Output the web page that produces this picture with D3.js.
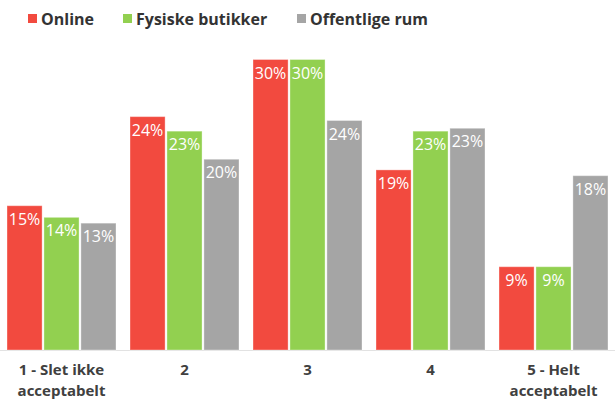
<!DOCTYPE html>
<html><head><meta charset="utf-8">
<script src="https://cdn.jsdelivr.net/npm/d3@7"></script>
<style>body{margin:0;background:#fff}svg{display:block}</style>
</head><body>
<svg id="c" width="615" height="401"></svg>
<script>
const categories = ["1 - Slet ikke|acceptabelt", "2", "3", "4", "5 - Helt|acceptabelt"];
const series = ["Online", "Fysiske butikker", "Offentlige rum"];
const online = [14.9, 24.1, 30.0, 18.6, 8.6];
const fysiske = [13.7, 22.6, 30.0, 22.6, 8.6];
const offentlige = [13.1, 19.7, 23.7, 22.9, 18.0];
const colors = ["#F24A3F", "#92D050", "#A5A5A5"];

const values = [online, fysiske, offentlige];
const svg = d3.select("#c");
const W = 615;
const x0 = d3.scaleBand().domain(categories).range([0, W]).padding(0);
const x1 = d3.scaleBand().domain(series).range([7, 116]).paddingInner(0.05);
const y = d3.scaleLinear().domain([0, 30]).range([350, 59.5]);

// baseline
svg.append("line").attr("x1", 0).attr("x2", W).attr("y1", 350.5).attr("y2", 350.5)
  .attr("stroke", "#e2e2e2").attr("stroke-width", 1);

const g = svg.append("g");
categories.forEach((c, ci) => {
  series.forEach((s, si) => {
    const v = values[si][ci];
    const bx = x0(c) + x1(s);
    g.append("rect").attr("x", bx).attr("y", y(v)).attr("width", x1.bandwidth())
      .attr("height", y(0) - y(v)).attr("fill", colors[si])
      .attr("stroke", "rgba(255,255,255,0.35)").attr("stroke-width", 1);
    g.append("text").attr("x", bx + x1.bandwidth() / 2).attr("y", y(v) + 19)
      .attr("text-anchor", "middle").attr("fill", "#fff")
      .attr("font-family", "Open Sans").attr("font-size", 16)
      .text(Math.round(v) + "%");
  });
});

// x axis labels
const xa = d3.axisBottom(x0).tickSize(0).tickFormat("");
const ax = svg.append("g").attr("transform", "translate(0,350)").call(xa);
ax.select(".domain").remove();
ax.selectAll(".tick").each(function(d) {
  const lines = d.split("|");
  const t = d3.select(this).append("text").attr("text-anchor", "middle")
    .attr("fill", "#404040").attr("font-family", "Open Sans").attr("font-weight", "bold")
    .attr("font-size", 15);
  lines.forEach((l, i) => t.append("tspan").attr("x", 0).attr("y", 25 + i * 21).text(l));
});

// legend
const legX = [28, 123, 297];
series.forEach((s, i) => {
  const lg = svg.append("g").attr("transform", `translate(${legX[i]},0)`);
  lg.append("rect").attr("x", 0).attr("y", 14).attr("width", 9).attr("height", 9).attr("fill", colors[i]);
  lg.append("text").attr("x", 13).attr("y", 24.5).attr("fill", "#333")
    .attr("font-family", "Open Sans").attr("font-weight", "bold").attr("font-size", 16).text(s);
});
</script>
</body></html>
